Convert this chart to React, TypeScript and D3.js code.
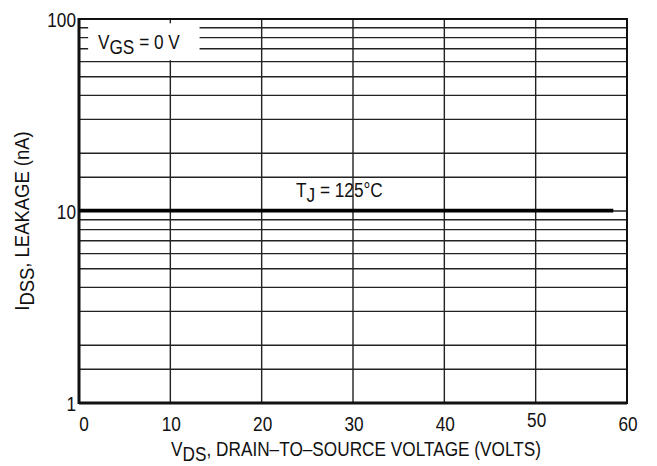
import * as d3 from 'd3';

const vds = [0, 58.5];
const idss = [10.05, 10.05];
const xTicks = [0, 10, 20, 30, 40, 50, 60];
const yTicks = [1, 10, 100];
const minorSteps = [1.5, 2, 3, 4, 5, 6, 7, 8, 9];
const curveLabel = '125°C';
const gateLabel = '= 0 V';

const width = 657;
const height = 466;
const margin = { top: 19, right: 30, bottom: 63, left: 79 };
const font = '"Liberation Sans", Arial, sans-serif';
const fs = 20.5;
const squeeze = 0.84;

// narrow-looking text: normal font squeezed horizontally
const Narrow = ({ x, y, anchor = 'start', rotate = 0, sx = squeeze, children }: any) => (
  <g transform={`translate(${x}, ${y}) rotate(${rotate}) scale(${sx}, 1)`}>
    <text fontSize={fs} textAnchor={anchor}>{children}</text>
  </g>
);

function App() {
  const innerWidth = width - margin.left - margin.right;
  const innerHeight = height - margin.top - margin.bottom;

  const xScale = d3.scaleLinear().domain([0, 60]).range([0, innerWidth]);
  const yScale = d3.scaleLog().domain([1, 100]).range([innerHeight, 0]);

  const minorLines = [1, 10].flatMap(dec => minorSteps.map(s => s * dec));

  const line = d3.line<number>()
    .x((_, i) => xScale(vds[i]))
    .y(d => yScale(d));

  return (
    <svg width={width} height={height} style={{ position: 'absolute', left: 0, top: 0, background: '#fff' }}>
      <g transform={`translate(${margin.left}, ${margin.top})`} fontFamily={font} fill='#111'>
        {/* grid */}
        {xTicks.slice(1, -1).map(t => (
          <line key={'v' + t} x1={xScale(t)} x2={xScale(t)} y1={0} y2={innerHeight} stroke='#222' strokeWidth={1.4} />
        ))}
        {minorLines.map(v => (
          <line key={'h' + v} x1={0} x2={innerWidth} y1={yScale(v)} y2={yScale(v)} stroke='#222' strokeWidth={1.4} />
        ))}
        <line x1={0} x2={innerWidth} y1={yScale(10)} y2={yScale(10)} stroke='#222' strokeWidth={1.4} />

        {/* legend box hides grid */}
        <rect
          x={xScale(1)}
          y={yScale(95)}
          width={xScale(13.2) - xScale(1)}
          height={yScale(61) - yScale(95)}
          fill='#fff'
        />
        <Narrow x={xScale(2.08)} y={yScale(70)}>
          V<tspan dy={5}>GS</tspan><tspan dy={-5}> {gateLabel}</tspan>
        </Narrow>

        {/* frame */}
        <rect x={0} y={0} width={innerWidth} height={innerHeight} fill='none' stroke='#111' strokeWidth={2} />
        <line x1={0} x2={0} y1={-1} y2={innerHeight + 1} stroke='#111' strokeWidth={3} />
        <line x1={0} x2={innerWidth} y1={innerHeight} y2={innerHeight} stroke='#111' strokeWidth={3} />

        {/* data */}
        <path d={line(idss) ?? ''} fill='none' stroke='#000' strokeWidth={3.8} />
        <Narrow x={xScale(23.76)} y={yScale(11.8)}>
          T<tspan dy={5}>J</tspan><tspan dy={-5}> = {curveLabel}</tspan>
        </Narrow>

        {/* axes labels */}
        {xTicks.map(t => (
          <Narrow
            key={'xt' + t}
            x={xScale(t) + (t === 0 ? 5 : 1)}
            y={innerHeight + (t === 50 ? 24 : 28)}
            anchor='middle'
          >
            {t}
          </Narrow>
        ))}
        {yTicks.map(t => (
          <Narrow key={'yt' + t} x={-3} y={yScale(t) + 8} anchor='end'>
            {t}
          </Narrow>
        ))}
        <Narrow x={innerWidth / 2 + 3} y={innerHeight + 53} anchor='middle'>
          V<tspan dy={5}>DS</tspan><tspan dy={-5}>, DRAIN–TO–SOURCE VOLTAGE (VOLTS)</tspan>
        </Narrow>
        <Narrow x={-50} y={innerHeight / 2 + 10} rotate={-90} sx={0.9} anchor='middle'>
          I<tspan dy={5}>DSS</tspan><tspan dy={-5}>, LEAKAGE (nA)</tspan>
        </Narrow>
      </g>
    </svg>
  );
}

export default App;
